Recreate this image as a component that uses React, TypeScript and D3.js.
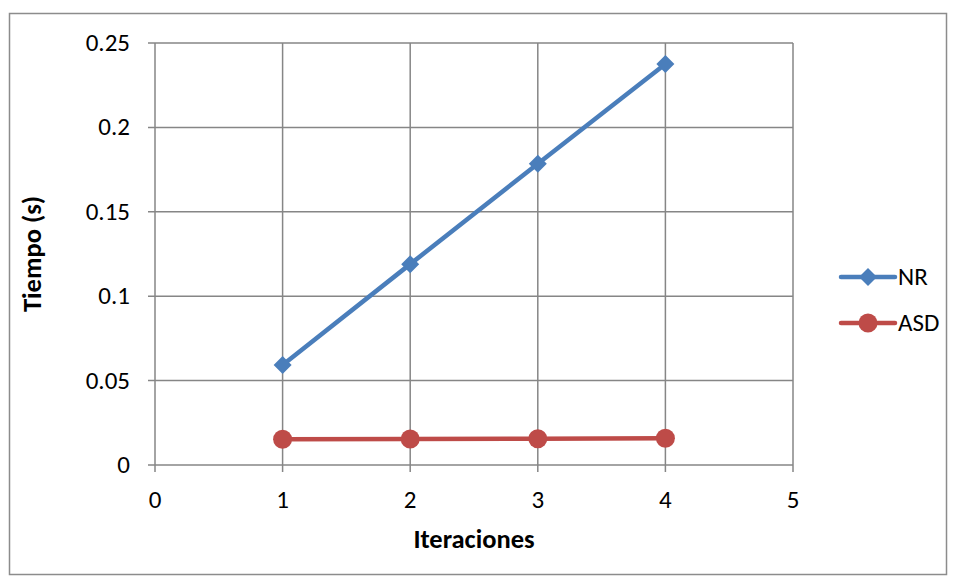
import React from "react";
import * as d3 from "d3";

const iterations = [1, 2, 3, 4];
const nrValues = [0.0592, 0.119, 0.1785, 0.2375];
const asdValues = [0.0152, 0.0154, 0.0156, 0.0158];
const xTicks = [0, 1, 2, 3, 4, 5];
const yTicks = [0, 0.05, 0.1, 0.15, 0.2, 0.25];
const seriesNames = ["NR", "ASD"];
const seriesColors = ["#4A7EBB", "#BE4B48"];

const W = 956;
const H = 583;
const left = 155;
const right = 793;
const top = 43;
const bottom = 465;
const font = "Carlito, Calibri, 'Open Sans', 'Noto Sans', sans-serif";

export default function App() {
  const x = d3.scaleLinear().domain([0, 5]).range([left, right]);
  const y = d3.scaleLinear().domain([0, 0.25]).range([bottom, top]);
  const line = d3
    .line<number>()
    .x((_, i) => x(iterations[i]))
    .y((d) => y(d));
  const grid = "#868686";
  const diamond = (cx: number, cy: number, r: number) =>
    `M${cx},${cy - r}L${cx + r},${cy}L${cx},${cy + r}L${cx - r},${cy}Z`;

  return (
    <svg width={W} height={H} style={{ position: "absolute", left: 0, top: 0 }} fontFamily={font}>
      <rect x={0} y={0} width={W} height={H} fill="#fff" />
      <rect x={9.5} y={13.5} width={937} height={561} fill="none" stroke="#8c8c8c" strokeWidth={1.5} />
      {/* grid */}
      {xTicks.map((t) => (
        <line key={"gx" + t} x1={x(t)} x2={x(t)} y1={top} y2={bottom + 7} stroke={grid} strokeWidth={1.5} />
      ))}
      {yTicks.map((t) => (
        <line key={"gy" + t} x1={left - 7} x2={right} y1={y(t)} y2={y(t)} stroke={grid} strokeWidth={1.5} />
      ))}
      {/* tick labels */}
      {xTicks.map((t) => (
        <text key={"xl" + t} x={x(t)} y={bottom + 43} textAnchor="middle" fontSize={25} fill="#000">
          {d3.format("")(t)}
        </text>
      ))}
      {yTicks.map((t) => (
        <text key={"yl" + t} x={130} y={y(t) + 8} textAnchor="end" fontSize={25} fill="#000">
          {d3.format("")(t)}
        </text>
      ))}
      {/* axis titles */}
      <text x={(left + right) / 2} y={548} textAnchor="middle" fontSize={26.5} fontWeight="bold">
        Iteraciones
      </text>
      <text
        transform={`translate(41,${(top + bottom) / 2}) rotate(-90)`}
        textAnchor="middle"
        fontSize={26.5}
        fontWeight="bold"
      >
        Tiempo (s)
      </text>
      {/* series */}
      <path d={line(nrValues) || ""} fill="none" stroke={seriesColors[0]} strokeWidth={4.5} strokeLinejoin="round" />
      {nrValues.map((v, i) => (
        <path key={"nr" + i} d={diamond(x(iterations[i]), y(v), 9)} fill={seriesColors[0]} />
      ))}
      <path d={line(asdValues) || ""} fill="none" stroke={seriesColors[1]} strokeWidth={4.5} />
      {asdValues.map((v, i) => (
        <circle key={"asd" + i} cx={x(iterations[i])} cy={y(v)} r={9.5} fill={seriesColors[1]} />
      ))}
      {/* legend */}
      {seriesNames.map((name, i) => {
        const ly = 277 + i * 46;
        return (
          <g key={name}>
            <line x1={841} x2={895} y1={ly} y2={ly} stroke={seriesColors[i]} strokeWidth={4.5} strokeLinecap="round" />
            {i === 0 ? (
              <path d={diamond(868, ly, 9)} fill={seriesColors[i]} />
            ) : (
              <circle cx={868} cy={ly} r={9.5} fill={seriesColors[i]} />
            )}
            <text x={898} y={ly + 8} fontSize={25}>
              {name}
            </text>
          </g>
        );
      })}
    </svg>
  );
}
